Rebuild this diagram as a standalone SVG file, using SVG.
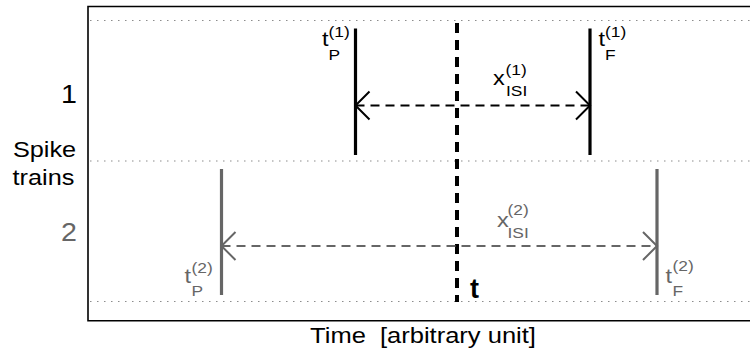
<svg xmlns="http://www.w3.org/2000/svg" width="750" height="353" viewBox="0 0 750 353">
<style>
text{font-family:"Liberation Sans",Arial,Helvetica,sans-serif;}
.k{fill:#000}
.g{fill:#666}
.m{font-size:21px}
.s{font-size:15.5px}
.big{font-size:22px}
.num{font-size:26px}
.frame{stroke:#000;stroke-width:1.6;fill:none}
.dot{stroke:#8c8c8c;stroke-width:1.2;stroke-dasharray:1.5 5.5;fill:none}
.spk1{stroke:#000;stroke-width:3.2}
.spk2{stroke:#666;stroke-width:3.2}
.tl{stroke:#000;stroke-width:4;stroke-dasharray:10 7}
.isi1{stroke:#000;stroke-width:2;stroke-dasharray:9 6;fill:none;marker-start:url(#ah1);marker-end:url(#ah1)}
.isi2{stroke:#666;stroke-width:2;stroke-dasharray:9 6;fill:none;marker-start:url(#ah2);marker-end:url(#ah2)}
</style>
<defs>
<marker id="ah1" markerUnits="userSpaceOnUse" orient="auto-start-reverse" refX="0" refY="0" markerWidth="30" markerHeight="30" overflow="visible">
<path d="M-14,-14 L0,0 L-14,14" fill="none" stroke="#000" stroke-width="2"/>
</marker>
<marker id="ah2" markerUnits="userSpaceOnUse" orient="auto-start-reverse" refX="0" refY="0" markerWidth="30" markerHeight="30" overflow="visible">
<path d="M-14,-14 L0,0 L-14,14" fill="none" stroke="#666" stroke-width="2"/>
</marker>
</defs>
<rect width="750" height="353" fill="#fff"/>
<g id="frame">
<path class="frame" d="M750,6.5 H88 V320.8 H750"/>
<path class="dot" d="M90,20.5 H750 M90,161 H750 M90,301.5 H750"/>
</g>
<g id="axis-labels">
<text class="num k" transform="translate(61,103) scale(1.1,1)">1</text>
<text class="num g" transform="translate(61,241) scale(1.1,1)">2</text>
<text class="big k" text-anchor="middle" transform="translate(44.5,157) scale(1.15,1)">Spike</text>
<text class="big k" text-anchor="middle" transform="translate(43.5,185) scale(1.15,1)">trains</text>
<text class="big k" text-anchor="middle" xml:space="preserve" transform="translate(423,343) scale(1.16,1)">Time  [arbitrary unit]</text>
</g>
<g id="time-t">
<line class="tl" x1="457" y1="23" x2="457" y2="302"/>
<text class="k" font-size="27" font-weight="bold" transform="translate(470,298)">t</text>
</g>
<g id="spike-p1">
<line class="spk1" x1="355.5" y1="28.5" x2="355.5" y2="155"/>
<text class="m k" transform="translate(322,46) scale(1.12,1)">t</text>
<text class="s k" transform="translate(328.5,37) scale(1.12,1)">(1)</text>
<text class="s k" transform="translate(328.5,59.5) scale(1.12,1)">P</text>
</g>
<g id="spike-f1">
<line class="spk1" x1="590" y1="28.5" x2="590" y2="155"/>
<text class="m k" transform="translate(598.5,46) scale(1.12,1)">t</text>
<text class="s k" transform="translate(605,37) scale(1.12,1)">(1)</text>
<text class="s k" transform="translate(605,59.5) scale(1.12,1)">F</text>
</g>
<g id="spike-p2">
<line class="spk2" x1="221.5" y1="169" x2="221.5" y2="295"/>
<text class="m g" transform="translate(184.5,283) scale(1.12,1)">t</text>
<text class="s g" transform="translate(191.5,273) scale(1.12,1)">(2)</text>
<text class="s g" transform="translate(191.5,296) scale(1.12,1)">P</text>
</g>
<g id="spike-f2">
<line class="spk2" x1="657" y1="169" x2="657" y2="295"/>
<text class="m g" transform="translate(665.5,283) scale(1.12,1)">t</text>
<text class="s g" transform="translate(672.5,271) scale(1.12,1)">(2)</text>
<text class="s g" transform="translate(672.5,296) scale(1.12,1)">F</text>
</g>
<g id="connectors">
<path class="isi1" d="M355.5,105.5 H590"/>
<path class="isi2" d="M221.5,246 H657"/>
<g id="isi1-label">
<text class="m k" transform="translate(493,85) scale(1.12,1)">x</text>
<text class="s k" transform="translate(505.5,75) scale(1.12,1)">(1)</text>
<text class="s k" transform="translate(506,96) scale(1.12,1)">ISI</text>
</g>
<g id="isi2-label">
<text class="m g" transform="translate(497,227) scale(1.12,1)">x</text>
<text class="s g" transform="translate(507.5,215) scale(1.12,1)">(2)</text>
<text class="s g" transform="translate(507.5,238) scale(1.12,1)">ISI</text>
</g>
</g>
</svg>
